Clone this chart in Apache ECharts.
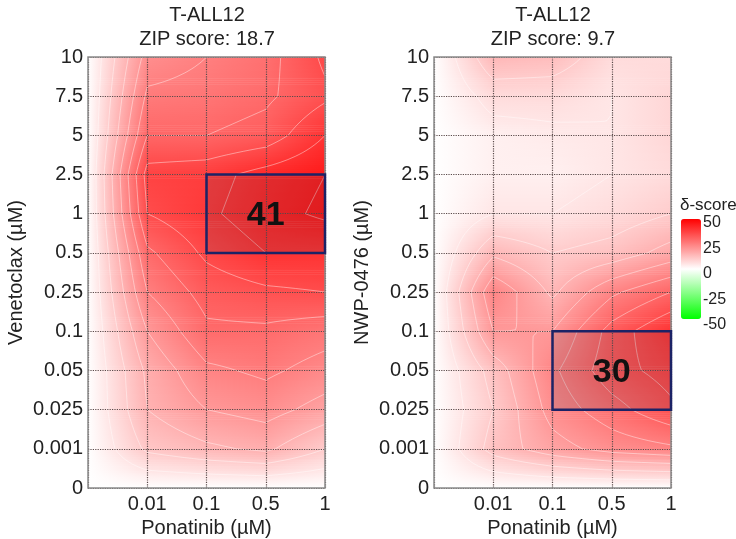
<!DOCTYPE html>
<html>
<head>
<meta charset="utf-8">
<script src="https://cdn.jsdelivr.net/npm/echarts@6/dist/echarts.min.js"></script>
<style>
  html, body { margin: 0; padding: 0; background: #fff; }
  #synergyChart { width: 736px; height: 539px; }
</style>
</head>
<body>
<div id="synergyChart"></div>
<script>
"use strict";
// dose labels (bottom to top for y)
var ponatinibDoses = ['0', '0.01', '0.1', '0.5', '1'];
var secondDoses = ['0', '0.001', '0.025', '0.05', '0.1', '0.25', '0.5', '1', '2.5', '5', '7.5', '10'];

// delta scores, one row per y dose (bottom row first), columns follow ponatinibDoses
var venetoclaxScores = [
    [0, 0, 0, 0, 0],
    [0, 11, 14, 16, 10],
    [0, 15, 20, 22, 18],
    [0, 16, 24, 26, 23],
    [0, 20, 29, 29, 27],
    [0, 25, 32, 34, 35],
    [0, 29, 36, 40, 40],
    [0, 35, 39, 43, 46],
    [0, 37, 38, 42, 45],
    [0, 30, 30, 32, 40],
    [0, 26, 27, 29, 34],
    [0, 22, 25, 28, 36]
];
var nwpScores = [
    [0, 0, 0, 0, 0],
    [0, 12, 18, 22, 24],
    [0, 10, 22, 28, 34],
    [0, 12, 24, 33, 37],
    [0, 20, 20, 32, 40],
    [0, 24, 14, 24, 30],
    [0, 14, 10, 12, 17],
    [0, 5, 5, 7, 10],
    [0, 3, 3, 5, 7],
    [0, 3, 4, 5, 8],
    [0, 7, 7, 5, 8],
    [0, 14, 13, 7, 7]
];

// most synergistic area boxes
var venetoclaxBox = { x: ['0.1', '1'], y: ['0.5', '2.5'], score: 41 };
var nwpBox = { x: ['0.1', '1'], y: ['0.025', '0.1'], score: 30 };

var titles = ['T-ALL12\nZIP score: 18.7', 'T-ALL12\nZIP score: 9.7'];
var yNames = ['Venetoclax (µM)', 'NWP-0476 (µM)'];
var contourLevels = [5, 10, 15, 20, 25, 30, 35, 40, 45];

var FONT = 'Liberation Sans, Arial, sans-serif';

// green - white - red colour ramp, same as the visualMap
function scoreColor(v) {
    var t = Math.max(-1, Math.min(1, v / 50));
    var r, g, b;
    if (t >= 0) {
        r = 255; g = b = Math.round(255 * (1 - t));
    } else {
        g = 255; r = b = Math.round(255 * (1 + t));
    }
    return 'rgb(' + r + ',' + g + ',' + b + ')';
}

// cells between neighbouring dose points
function cellData(scores) {
    var out = [];
    for (var j = 0; j < scores.length - 1; j++) {
        for (var i = 0; i < scores[j].length - 1; i++) {
            out.push([i, j, scores[j][i], scores[j][i + 1], scores[j + 1][i], scores[j + 1][i + 1]]);
        }
    }
    return out;
}

function cellCorners(api) {
    var i = api.value(0), j = api.value(1);
    var p0 = api.coord([i, j]);
    var p1 = api.coord([i + 1, j + 1]);
    return {
        x0: p0[0], x1: p1[0], yb: p0[1], yt: p1[1],
        v00: api.value(2), v10: api.value(3), v01: api.value(4), v11: api.value(5)
    };
}

// smooth fill: thin horizontal strips with a left-right gradient
function renderFill(params, api) {
    var c = cellCorners(api);
    var h = c.yb - c.yt;
    var n = Math.max(1, Math.ceil(h / 2));
    var children = [];
    for (var k = 0; k < n; k++) {
        var ty = (k + 0.5) / n;
        var vl = c.v00 + (c.v01 - c.v00) * ty;
        var vr = c.v10 + (c.v11 - c.v10) * ty;
        var ya = c.yb - h * (k + 1) / n;
        children.push({
            type: 'rect',
            shape: { x: c.x0 - 0.3, y: ya - 0.3, width: c.x1 - c.x0 + 0.6, height: h / n + 0.6 },
            style: {
                fill: new echarts.graphic.LinearGradient(0, 0, 1, 0, [
                    { offset: 0, color: scoreColor(vl) },
                    { offset: 1, color: scoreColor(vr) }
                ])
            }
        });
    }
    return { type: 'group', children: children };
}

// contour lines by marching squares on a bilinear sub grid
function renderContours(params, api) {
    var c = cellCorners(api);
    var n = 8;
    function val(a, b) {
        return c.v00 * (1 - a) * (1 - b) + c.v10 * a * (1 - b) + c.v01 * (1 - a) * b + c.v11 * a * b;
    }
    function px(a) { return c.x0 + (c.x1 - c.x0) * a; }
    function py(b) { return c.yb + (c.yt - c.yb) * b; }
    var d = '';
    contourLevels.forEach(function (L0) {
        var L = L0 + 0.01;
        for (var si = 0; si < n; si++) {
            for (var sj = 0; sj < n; sj++) {
                var a0 = si / n, a1 = (si + 1) / n, b0 = sj / n, b1 = (sj + 1) / n;
                var q = [[a0, b0], [a1, b0], [a1, b1], [a0, b1]];
                var qv = q.map(function (p) { return val(p[0], p[1]); });
                var pts = [];
                for (var e = 0; e < 4; e++) {
                    var va = qv[e], vb = qv[(e + 1) % 4];
                    if ((va - L) * (vb - L) < 0) {
                        var t = (L - va) / (vb - va);
                        var pa = q[e], pb = q[(e + 1) % 4];
                        pts.push([px(pa[0] + (pb[0] - pa[0]) * t), py(pa[1] + (pb[1] - pa[1]) * t)]);
                    }
                }
                for (var m = 0; m + 1 < pts.length; m += 2) {
                    d += 'M' + pts[m][0].toFixed(2) + ' ' + pts[m][1].toFixed(2) +
                        'L' + pts[m + 1][0].toFixed(2) + ' ' + pts[m + 1][1].toFixed(2);
                }
            }
        }
    });
    if (!d) return { type: 'group', children: [] };
    return {
        type: 'path',
        shape: { pathData: d },
        style: { fill: null, stroke: 'rgba(255,255,255,0.42)', lineWidth: 1 }
    };
}

var gridLeft = [88, 434];
var grids = gridLeft.map(function (l) {
    return { left: l, top: 57, width: 237, height: 431, show: true, z: 4,
        outerBoundsMode: 'none', containLabel: false,
        backgroundColor: 'transparent', borderColor: '#8a8a8a', borderWidth: 1.5 };
});
grids.push({ left: 681, top: 223, width: 20, height: 102, show: false, outerBoundsMode: 'none' });

var xAxes = [0, 1].map(function (k) {
    return {
        type: 'category', gridIndex: k, data: ponatinibDoses, boundaryGap: false, z: 3,
        name: 'Ponatinib (µM)', nameLocation: 'middle', nameGap: 25,
        nameTextStyle: { fontSize: 20, color: '#222', fontFamily: FONT },
        axisLine: { show: false }, axisTick: { show: false },
        axisLabel: { interval: 0, fontSize: 20, color: '#222', fontFamily: FONT, margin: 6,
            formatter: function (v) { return v === '0' ? '' : v; } },
        splitLine: { show: true, interval: 0, lineStyle: { type: 'dotted', color: '#5a4a4a', width: 1.2 } }
    };
});
xAxes.push({ type: 'value', gridIndex: 2, show: false });

var yAxes = [0, 1].map(function (k) {
    return {
        type: 'category', gridIndex: k, data: secondDoses, boundaryGap: false, z: 3,
        name: yNames[k], nameLocation: 'middle', nameGap: 62,
        nameTextStyle: { fontSize: 20, color: '#222', fontFamily: FONT },
        axisLine: { show: false }, axisTick: { show: false },
        axisLabel: { interval: 0, fontSize: 20, color: '#222', fontFamily: FONT, margin: 5 },
        splitLine: { show: true, interval: 0, lineStyle: { type: 'dotted', color: '#5a4a4a', width: 1.2 } }
    };
});
yAxes.push({
    type: 'value', gridIndex: 2, min: -50, max: 50, interval: 25, position: 'right',
    axisLine: { show: false }, axisTick: { show: false }, splitLine: { show: false },
    axisLabel: { fontSize: 16, color: '#222', fontFamily: FONT, margin: 2 }
});

var allScores = [venetoclaxScores, nwpScores];
var boxes = [venetoclaxBox, nwpBox];
var series = [];
[0, 1].forEach(function (k) {
    var data = cellData(allScores[k]);
    series.push({ type: 'custom', xAxisIndex: k, yAxisIndex: k, z: 1, silent: true,
        renderItem: renderFill, data: data });
    series.push({ type: 'custom', xAxisIndex: k, yAxisIndex: k, z: 1, silent: true,
        renderItem: renderContours, data: data });
    var box = boxes[k];
    series.push({
        type: 'line', xAxisIndex: k, yAxisIndex: k, data: [], z: 10, silent: true,
        markArea: {
            z: 10, silent: true,
            itemStyle: { color: 'rgba(70,60,80,0.16)', borderColor: '#1c2366', borderWidth: 2.5 },
            label: { show: true, position: 'inside', formatter: String(box.score),
                fontSize: 34, fontWeight: 'bold', color: '#111', fontFamily: FONT, offset: [0, 2] },
            data: [[{ coord: [box.x[0], box.y[0]] }, { coord: [box.x[1], box.y[1]] }]]
        }
    });
});

var chart = echarts.init(document.getElementById('synergyChart'));
chart.setOption({
    animation: false,
    backgroundColor: '#fff',
    title: [
        { text: titles[0], left: 207, top: 3, padding: 0, textAlign: 'center',
            textStyle: { fontSize: 20, fontWeight: 'normal', color: '#222', lineHeight: 24, fontFamily: FONT } },
        { text: titles[1], left: 553, top: 3, padding: 0, textAlign: 'center',
            textStyle: { fontSize: 20, fontWeight: 'normal', color: '#222', lineHeight: 24, fontFamily: FONT } },
        { text: 'δ-score', left: 680, top: 197, padding: 0,
            textStyle: { fontSize: 17, fontWeight: 'normal', color: '#222', fontFamily: FONT } }
    ],
    grid: grids,
    xAxis: xAxes,
    yAxis: yAxes,
    visualMap: {
        type: 'continuous', min: -50, max: 50, calculable: false, seriesIndex: 2,
        orient: 'vertical', left: 681, top: 219, itemWidth: 20, itemHeight: 100, padding: 0,
        inRange: { color: ['#00ff00', '#ffffff', '#ff0000'] }
    },
    series: series
});

window.onresize = function () {
    chart.resize();
};
</script>
</body>
</html>
